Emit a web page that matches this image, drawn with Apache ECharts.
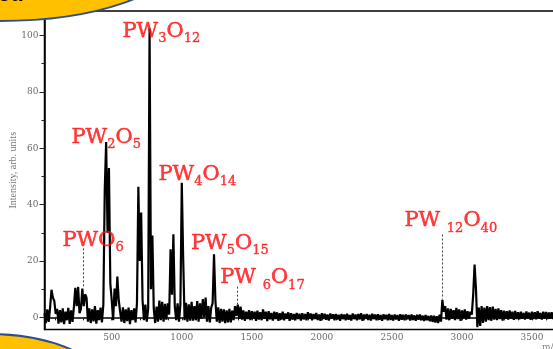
<!DOCTYPE html>
<html>
<head>
<meta charset="utf-8">
<script src="https://cdn.jsdelivr.net/npm/echarts@6/dist/echarts.min.js"></script>
<style>
  html, body { margin: 0; padding: 0; background: #fff; }
  #chart { width: 553px; height: 349px; }
</style>
</head>
<body>
<div id="chart"></div>
<script>
// Mass spectrum: intensity sampled every 10 m/z, starting at m/z 20
const massStart = 20;
const massStep = 10;

// m/z 20 – 1010
const intensityLow = [
  1.5, -2.0, 2.8, -1.6, 3.5, 9.8, 7.0, 5.8, 1.2, 3.0,
  -2.2, 2.6, -1.8, 3.2, -2.4, 2.0, -1.0, 3.4, -2.3, 2.5,
  -1.6, 3.8, 10.5, 4.0, 10.8, 1.5, 3.0, 10.2, 4.0, 8.2,
  7.0, -1.5, 3.2, -2.0, 2.8, -1.4, 4.0, -2.2, 2.6, -1.0,
  3.5, -1.8, 4.5, 45.0, 62.2, 30.0, 53.0, 12.0, 6.0, -1.0,
  10.2, 4.0, 14.5, 6.0, 2.0, -1.5, 3.6, -2.0, 2.8, -1.3,
  3.5, -2.4, 2.6, -1.0, 3.2, -1.8, 5.0, 46.3, 20.0, 37.2,
  6.0, -1.0, 4.5, -1.5, 3.0, 102.5, 10.0, 29.0, 3.0, -2.0,
  3.8, -1.5, 6.0, -1.0, 5.5, -1.5, 4.8, -0.8, 5.0, 1.0,
  24.2, 8.0, 29.5, 4.0, -1.0, 5.0, -1.5, 4.5, 47.8, 20.7
];

// m/z 1020 – 2010
const intensityMid = [
  -1.0, 5.2, -1.5, 4.6, -1.2, 5.5, -1.2, 4.0, -1.0, 5.8,
  -1.5, 5.0, -0.5, 6.5, 0.0, 7.0, -1.5, 4.0, -1.8, 3.5,
  5.0, 22.4, 6.0, -1.5, 3.6, -2.0, 3.0, -1.5, 2.8, -2.0,
  2.5, -1.8, 3.0, -1.8, 2.4, -1.0, 4.0, 0.5, 4.5, -0.5,
  3.8, -0.8, 2.5, -1.2, 2.0, -0.6, 2.6, -1.0, 2.2, -0.4,
  2.0, -1.2, 2.4, -0.8, 1.8, -1.0, 2.8, -0.5, 2.0, -1.3,
  2.2, -0.7, 1.6, -1.1, 2.0, -0.6, 1.8, -1.2, 1.5, -0.8,
  2.0, -1.0, 1.4, -0.5, 1.8, -1.2, 1.5, -0.8, 1.2, -1.0,
  1.6, -0.6, 1.3, -1.1, 1.5, -0.7, 1.2, -1.0, 1.8, -0.5,
  1.4, -1.0, 1.2, -0.6, 1.6, -0.9, 1.0, -1.2, 1.5, -0.6
];

// m/z 2020 – 3660
const intensityHigh = [
  1.3, -0.8, 1.0, -1.1, 1.4, -0.5, 1.1, -1.0, 1.2, -0.7,
  0.9, -1.2, 1.2, -0.6, 1.0, -1.0, 1.3, -0.8, 0.8, -1.1,
  1.4, -0.6, 1.0, -1.0, 1.2, -0.7, 1.5, -1.2, 1.0, -0.5,
  1.2, -0.9, 0.9, -1.1, 1.3, -0.6, 1.0, -1.0, 1.1, -0.8,
  0.8, -1.2, 1.1, -0.6, 0.9, -1.0, 1.2, -0.9, 0.8, -1.1,
  1.0, -0.7, 0.8, -1.2, 1.1, -0.8, 0.9, -1.0, 1.0, -0.6,
  0.8, -1.1, 1.0, -0.9, 0.7, -1.2, 0.9, -0.8, 1.0, -1.0,
  0.6, -1.3, 0.8, -1.0, 0.5, -1.4, 0.7, -1.6, 0.6, -1.8,
  0.4, -2.0, 1.0, -1.5, 6.2, 2.0, 4.0, -0.8, 3.2, -1.0,
  3.0, -0.5, 2.6, -1.0, 3.4, -0.6, 2.8, -1.2, 2.5, -0.4,
  2.8, -0.8, 2.2, -0.5, 2.0, 1.0, 8.0, 18.7, 10.0, -3.5,
  3.5, -3.0, 4.0, -2.0, 3.5, -1.5, 4.0, -1.0, 3.6, -1.2,
  3.8, -0.8, 3.0, -1.0, 3.2, -0.6, 2.6, -1.1, 2.4, -0.5,
  2.2, -0.8, 2.5, -0.4, 2.0, -0.9, 2.3, -0.6, 1.8, -0.7,
  2.0, -0.5, 1.6, -0.8, 2.1, -0.4, 1.7, -0.9, 2.0, -0.6,
  1.8, -0.7, 2.2, -0.5, 1.6, -0.8, 2.0, -0.4, 1.9, -0.6,
  1.7, -0.5, 1.8, -0.6, 1.5
];

// Axis ticks and labels
const xTickValues = [100, 200, 300, 400, 500, 600, 700, 800, 900, 1000, 1100, 1200,
  1300, 1400, 1500, 1600, 1700, 1800, 1900, 2000, 2100, 2200, 2300, 2400, 2500,
  2600, 2700, 2800, 2900, 3000, 3100, 3200, 3300, 3400, 3500, 3600];
const xTickLabels = [500, 1000, 1500, 2000, 2500, 3000, 3500];
const yTickLabels = [0, 20, 40, 60, 80, 100];
const yMinorTicks = [10, 30, 50, 70, 90];

// Ion assignments (rich-text formula) and where each label sits in data space
const ionNames = [
  'PW{s|3}O{s|12}', 'PW{s|2}O{s|5}', 'PW{s|4}O{s|14}', 'PWO{s|6}',
  'PW{s|5}O{s|15}', 'PW {s|6}O{s|17}', 'PW {s|12}O{s|40}'
];
const ionLabelMass = [580, 216, 837, 152, 1069, 1278, 2593];
const ionLabelLevel = [99.1, 61.5, 48.4, 25.1, 23.9, 11.7, 31.9];

// Dotted leader lines from a label down to its peak
const leaderMass = [297, 1397, 2859];
const leaderTop = [24.5, 10.9, 29.4];
const leaderBottom = [10.6, 3.8, 6.4];

const intensity = intensityLow.concat(intensityMid, intensityHigh);
const spectrum = intensity.map((v, i) => [massStart + i * massStep, v]);
const ionLabels = ionNames.map((n, i) => ({ name: n, value: [ionLabelMass[i], ionLabelLevel[i]] }));
const leaders = leaderMass.map((m, i) => [{ coord: [m, leaderTop[i]] }, { coord: [m, leaderBottom[i]] }]);

const red = '#ff0a0a';
const tickFont = { fontFamily: 'DejaVu Serif', fontSize: 9, color: '#6a6a6a' };

const chart = echarts.init(document.getElementById('chart'), null, { renderer: 'canvas' });
chart.setOption({
  animation: false,
  backgroundColor: '#ffffff',
  grid: {
    left: 44.5, right: -2, top: 11, bottom: 19.5,
    containLabel: false, outerBoundsMode: 'none',
    show: true, borderColor: '#000', borderWidth: 1.5, backgroundColor: 'transparent'
  },
  xAxis: {
    type: 'value', min: 20, max: 3664,
    axisLine: { lineStyle: { color: '#000', width: 1.5 } },
    axisTick: { customValues: xTickValues, length: 3, lineStyle: { color: '#222', width: 1 } },
    axisLabel: Object.assign({ customValues: xTickLabels, margin: 4, formatter: v => String(v) }, tickFont),
    splitLine: { show: false }
  },
  yAxis: [
    {
      type: 'value', min: -4.3, max: 108.7,
      name: 'Intensity, arb. units', nameLocation: 'middle', nameGap: 26, nameRotate: 90,
      nameMoveOverlap: false,
      nameTextStyle: { fontFamily: 'Liberation Serif', fontSize: 10, color: '#777' },
      axisLine: { show: true, lineStyle: { color: '#000', width: 1.5 } },
      axisTick: { customValues: yTickLabels, length: 5, lineStyle: { color: '#222', width: 1 } },
      axisLabel: Object.assign({ customValues: yTickLabels, margin: 6, formatter: v => String(v) }, tickFont),
      splitLine: { show: false }
    },
    {
      type: 'value', min: -4.3, max: 108.7, position: 'left',
      axisLine: { show: false },
      axisTick: { customValues: yMinorTicks, length: 3, lineStyle: { color: '#222', width: 1 } },
      axisLabel: { show: false },
      splitLine: { show: false }
    }
  ],
  series: [
    {
      type: 'line',
      data: spectrum,
      symbol: 'none',
      sampling: 'none',
      lineStyle: { color: '#000', width: 2.2 },
      silent: true,
      markLine: {
        silent: true,
        symbol: ['none', 'none'],
        label: { show: false },
        lineStyle: { color: '#444', width: 1, type: [2, 2] },
        data: leaders
      }
    },
    {
      type: 'scatter',
      data: ionLabels,
      symbolSize: 1,
      itemStyle: { color: 'rgba(0,0,0,0)' },
      silent: true,
      z: 5,
      labelLayout: { hideOverlap: false },
      label: {
        show: true,
        formatter: p => p.name,
        position: [0, -20],
        align: 'left',
        verticalAlign: 'top',
        fontFamily: 'DejaVu Serif',
        fontSize: 21,
        lineHeight: 28,
        color: red,
        textBorderColor: red,
        textBorderWidth: 0.5,
        rich: {
          s: {
            fontFamily: 'DejaVu Serif', fontSize: 13, lineHeight: 13, verticalAlign: 'bottom',
            color: red, textBorderColor: red, textBorderWidth: 0.4
          }
        }
      }
    }
  ],
  graphic: [
    {
      type: 'ellipse', z: 100,
      shape: { cx: 0, cy: -39, rx: 173, ry: 60 },
      style: { fill: '#ffc000', stroke: '#2f4f8c', lineWidth: 2 }
    },
    {
      type: 'text', z: 101, x: -2, y: -16,
      style: { text: 'ed', font: 'bold 22px "Liberation Sans"', fill: '#000', verticalAlign: 'top' }
    },
    {
      type: 'ellipse', z: 100,
      shape: { cx: -10, cy: 400, rx: 126, ry: 66 },
      style: { fill: '#ffc000', stroke: '#2f4f8c', lineWidth: 2 }
    },
    {
      type: 'text', z: 101, x: 542, y: 343,
      style: { text: 'm/z', font: '9px "DejaVu Serif"', fill: '#888' }
    }
  ]
});
</script>
</body>
</html>
